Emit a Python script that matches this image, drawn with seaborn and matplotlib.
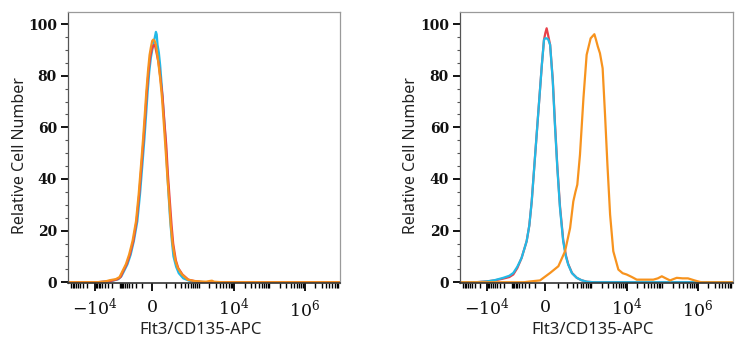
import numpy as np
import pandas as pd
import seaborn as sns
import matplotlib
matplotlib.use("Agg")
import matplotlib.pyplot as plt

# ---- data (x in display-channel units 0..1024 on a biexponential axis) ----
left_orange_x = [0, 109, 140, 158, 180, 194, 205, 218, 230, 243, 256, 266, 275, 283, 289, 295, 301, 307, 312, 317, 321, 326, 331, 339, 347, 354, 361, 367, 374, 381, 387, 394, 404, 413, 429, 451, 474, 497, 520, 535, 542, 550, 580, 1024]
left_orange_y = [0, 0, 0.3, 0.8, 1.2, 2, 4.3, 7, 10.7, 16, 23.6, 34, 45.5, 56, 64.9, 74, 81.6, 88, 91, 93.5, 94, 93.5, 92, 86, 79, 71.3, 61, 52, 41, 31.3, 22, 14.6, 8.5, 5.6, 3, 1, 0.5, 0.3, 0.2, 0.5, 0.6, 0.2, 0, 0]

left_cyan_x = [0, 115, 150, 170, 190, 201, 211, 224, 236, 248, 261, 271, 280, 288, 294, 300, 306, 312, 318, 323, 328, 331, 334, 337, 342, 347, 353, 359, 366, 372, 378, 384, 391, 397, 407, 417, 434, 456, 484, 520, 1024]
left_cyan_y = [0, 0, 0.3, 0.6, 1.2, 2.3, 4.3, 7, 10.7, 16, 23.6, 34, 45.5, 56, 64.9, 74, 81.6, 87, 90.5, 93, 95.5, 97, 96, 92, 89, 84, 76, 67, 57, 46, 35, 25, 16, 10, 6, 3.5, 1.5, 0.6, 0.2, 0, 0]

left_red_x = [0, 110, 145, 165, 185, 198, 208, 221, 233, 246, 258, 268, 277, 285, 291, 297, 303, 309, 315, 320, 325, 329, 333, 341, 348, 356, 363, 370, 376, 383, 390, 396, 406, 415, 431, 453, 479, 510, 1024]
left_red_y = [0, 0, 0.3, 0.6, 1.1, 2, 4.3, 7, 10.7, 16, 23.6, 34, 45.5, 56, 64.9, 74, 81.6, 87, 90, 91.5, 92, 91, 89, 85, 79, 72, 62, 53, 42, 32, 22, 15, 8.5, 5.5, 3, 1, 0.4, 0, 0]

right_cyan_x = [0, 60, 100, 130, 162, 185, 200, 215, 231, 250, 260, 269, 281, 294, 307, 315, 319, 325, 331, 338, 348, 356, 365, 375, 387, 397, 406, 420, 438, 455, 475, 500, 1024]
right_cyan_y = [0, 0, 0.3, 0.8, 1.7, 2.5, 3.6, 6, 9.4, 15.9, 22, 31.3, 48.1, 66.2, 84.2, 93.9, 94.5, 94.5, 94, 92, 77.8, 61, 44.3, 28.8, 15.9, 10, 6.8, 3.5, 1.7, 0.8, 0.2, 0, 0]

right_red_x = [0, 60, 100, 130, 162, 185, 200, 215, 231, 250, 260, 269, 281, 294, 307, 315, 320, 325, 330, 338, 348, 356, 365, 375, 387, 397, 406, 420, 438, 455, 475, 500, 1024]
right_red_y = [0, 0, 0.3, 0.7, 1.4, 2, 3, 5.5, 9.4, 15.9, 22, 31.3, 48.1, 66.2, 84.2, 93.9, 96.5, 98.4, 96, 92, 78.5, 62, 45, 29.5, 16.5, 10.5, 7, 3.6, 1.7, 0.8, 0.2, 0, 0]

right_orange_x = [0, 240, 263, 300, 338, 369, 394, 413, 425, 433, 440, 450, 463, 475, 490, 504, 510, 517, 525, 535, 544, 553, 563, 575, 594, 610, 625, 645, 663, 690, 725, 742, 757, 772, 788, 800, 813, 835, 855, 880, 904, 1024]
right_orange_y = [0, 0, 0.3, 0.7, 3.6, 6.2, 12, 21, 31.3, 35, 37.8, 49.4, 71.3, 88.1, 94.5, 96.1, 94, 91.3, 88.7, 82.9, 64.9, 45.5, 26.2, 12, 4.9, 3.5, 3, 2, 1, 1, 1, 1.5, 2.3, 1.5, 0.7, 1.2, 1.7, 1.5, 1.5, 0.7, 0, 0]

x_tick_labels = [r"$-10^4$", r"$0$", r"$10^4$", r"$10^6$"]
x_tick_values = [-1e4, 0, 1e4, 1e6]
y_ticks = [0, 20, 40, 60, 80, 100]

RED = "#E8414A"
ORANGE = "#F7931E"
CYAN = "#23B9E6"

sns.set_theme(style="white")
plt.rcParams["mathtext.fontset"] = "dejavuserif"


def biex(v):
    v = np.asarray(v, dtype=float)
    a = 57.8
    w = 97.0
    pos = 317 + a * np.arcsinh(np.abs(v) / w)
    neg = 317 - 0.7 * a * np.arcsinh(np.abs(v) / w)
    return np.where(v >= 0, pos, neg)


fig = plt.figure(figsize=(7.46, 3.5), dpi=100)
ax1 = fig.add_axes([68 / 746, 67 / 350, 272 / 746, 271 / 350])
ax2 = fig.add_axes([460 / 746, 67 / 350, 273 / 746, 271 / 350])

series_left = [(left_cyan_x, left_cyan_y, CYAN), (left_red_x, left_red_y, RED),
               (left_orange_x, left_orange_y, ORANGE)]
series_right = [(right_red_x, right_red_y, RED), (right_cyan_x, right_cyan_y, CYAN),
                (right_orange_x, right_orange_y, ORANGE)]

for ax, series in [(ax1, series_left), (ax2, series_right)]:
    for xs, ys, col in series:
        df = pd.DataFrame({"x": xs, "y": ys})
        sns.lineplot(data=df, x="x", y="y", ax=ax, color=col, lw=1.6,
                     estimator=None, sort=False)
    ax.set_xlim(0, 1024)
    ax.set_ylim(-0.3, 104.7)
    ax.set_yticks(y_ticks)
    ax.set_yticklabels([str(t) for t in y_ticks], family="DejaVu Serif",
                       fontsize=10, fontweight="bold", color="#111111")
    ax.set_yticks(np.arange(0, 105, 5), minor=True)
    ax.set_xticks(biex(x_tick_values))
    ax.set_xticklabels(x_tick_labels, fontsize=12.5, color="#111111")
    minors = []
    for d in [1e2, 1e3, 1e4, 1e5, 1e6]:
        for k in range(1, 10):
            minors.append(k * d)
    for d in [1e2, 1e3, 1e4]:
        for k in range(1, 10):
            minors.append(-k * d)
    mpos = biex(minors)
    mpos = mpos[(mpos > 2) & (mpos < 1022)]
    ax.set_xticks(mpos, minor=True)
    ax.tick_params(axis="x", which="major", direction="out", length=6, width=1.3,
                   color="black", pad=5, bottom=True)
    ax.tick_params(axis="x", which="minor", direction="out", length=3.5, width=1.0,
                   color="black", bottom=True)
    ax.tick_params(axis="y", which="major", direction="out", length=5, width=1.3,
                   color="black", pad=3, left=True)
    ax.tick_params(axis="y", which="minor", direction="out", length=2.5, width=0.8,
                   color="#555555", left=True)
    for s in ["top", "right"]:
        ax.spines[s].set_color("#9a9a9a")
        ax.spines[s].set_linewidth(0.9)
    ax.spines["left"].set_color("#555555")
    ax.spines["left"].set_linewidth(0.9)
    ax.spines["bottom"].set_color("#333333")
    ax.spines["bottom"].set_linewidth(1.2)
    ax.set_xlabel("Flt3/CD135-APC", family="Noto Sans", fontsize=12, color="#222222",
                  va="center")
    ax.set_ylabel("Relative Cell Number", family="Noto Sans", fontsize=11.5,
                  color="#222222", va="center")

ax1.xaxis.set_label_coords(0.488, -0.173)
ax1.yaxis.set_label_coords(-0.176, 0.469)
ax2.xaxis.set_label_coords(0.487, -0.173)
ax2.yaxis.set_label_coords(-0.18, 0.469)

fig.savefig("out.png", dpi=100)
